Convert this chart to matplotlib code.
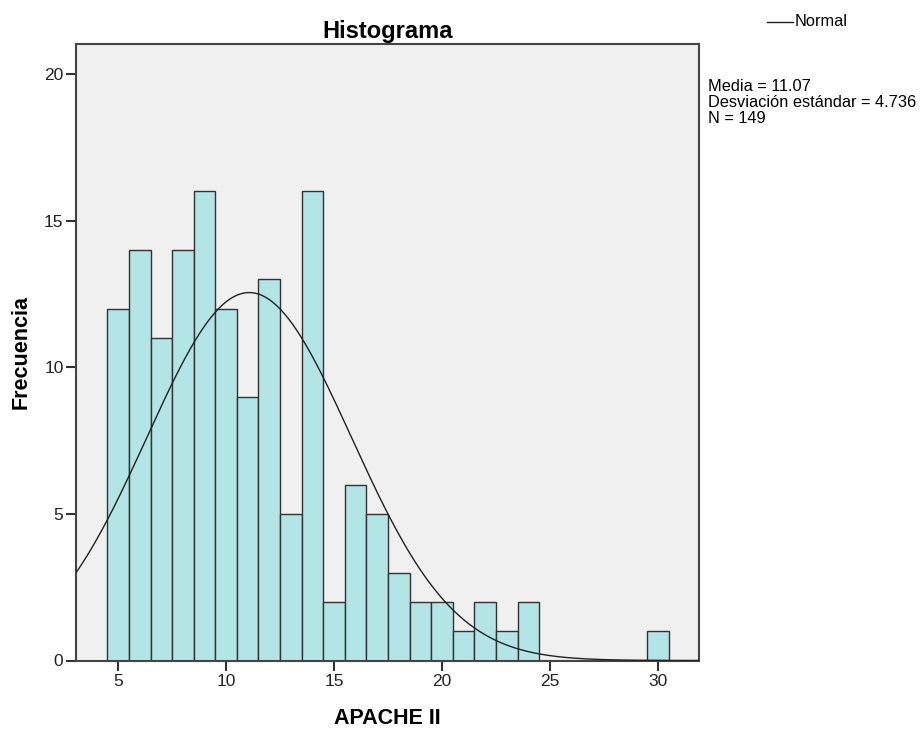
import numpy as np
import matplotlib
matplotlib.use("Agg")
import matplotlib.pyplot as plt

plt.rcParams['font.family'] = ['Liberation Sans', 'DejaVu Sans']

bin_centers = [5, 6, 7, 8, 9, 10, 11, 12, 13, 14, 15, 16, 17, 18, 19, 20, 21, 22, 23, 24, 25, 26, 27, 28, 29, 30]
counts = [12, 14, 11, 14, 16, 12, 9, 13, 5, 16, 2, 6, 5, 3, 2, 2, 1, 2, 1, 2, 0, 0, 0, 0, 0, 1]
mean = 11.07
sd = 4.736
n = 149
bin_width = 1.0
stats_lines = ['Media = 11.07', 'Desviación estándar = 4.736', 'N = 149']

fig = plt.figure(figsize=(9.23, 7.29), dpi=100)
ax = fig.add_axes([76/923, 1-660.5/729, (699-76)/923, (660.5-44)/729])
ax.set_facecolor('#f0f0f0')

xs = [c for c, v in zip(bin_centers, counts) if v > 0]
hs = [v for v in counts if v > 0]
ax.bar(xs, hs, width=bin_width, color='#b3e4e6', edgecolor='#333333', linewidth=1.0, zorder=2)

xlim = (3.05, 31.9)
xx = np.linspace(xlim[0], xlim[1], 500)
yy = n * bin_width / (sd * np.sqrt(2*np.pi)) * np.exp(-0.5*((xx-mean)/sd)**2)
ax.plot(xx, yy, color='#222222', linewidth=1.0, zorder=3)

ax.set_xlim(*xlim)
ax.set_ylim(0, 21.03)
ax.set_xticks([5, 10, 15, 20, 25, 30])
ax.set_yticks([0, 5, 10, 15, 20])
ax.tick_params(labelsize=12.5, length=7, width=1.5, color='#333333', labelcolor='#222222')
ax.tick_params(axis='x', pad=3)
ax.tick_params(axis='y', pad=2)
for s in ax.spines.values():
    s.set_color('#444444')
    s.set_linewidth(1.5)

ax.set_title('Histograma', fontsize=17, fontweight='bold', pad=4)
ax.set_xlabel('APACHE II', fontsize=15.5, fontweight='bold', va='center')
ax.set_ylabel('Frecuencia', fontsize=15.5, fontweight='bold', va='center')
ax.xaxis.set_label_coords(0.5, (660.5-718)/616.5)
ax.yaxis.set_label_coords((21-76)/623, 0.5)

for i, line in enumerate(stats_lines):
    fig.text(708/923, 1-(91 + 16*i)/729, line, fontsize=11.8, va='baseline', ha='left')
fig.lines.append(plt.Line2D([767/923, 793/923], [1-22/729, 1-22/729], color='#222222', linewidth=1.0,
                            transform=fig.transFigure))
fig.text(795/923, 1-22/729, 'Normal', fontsize=11.8, va='center', ha='left')

fig.savefig('out.png', dpi=100)
